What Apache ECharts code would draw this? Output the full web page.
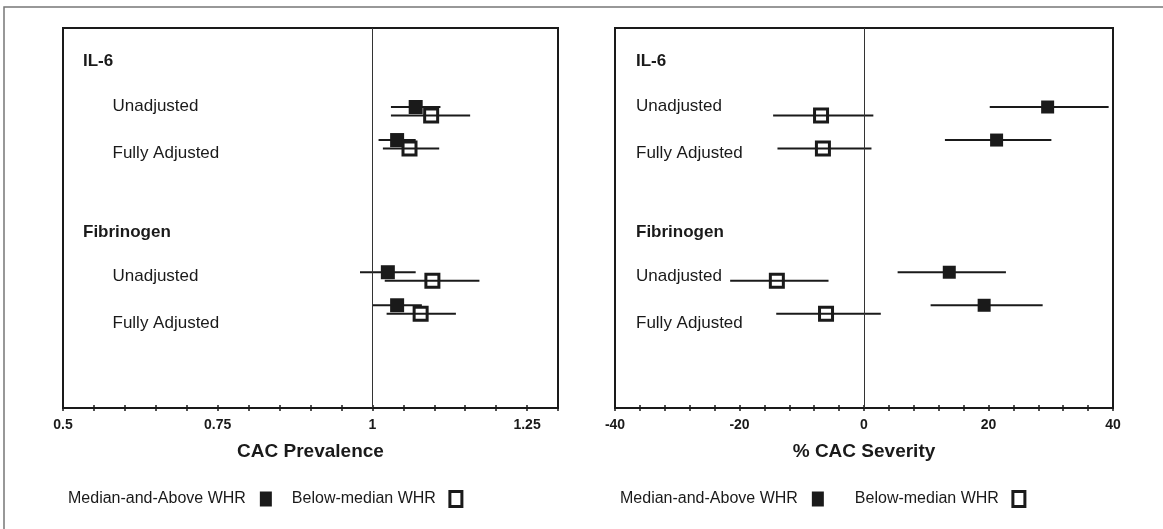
<!DOCTYPE html>
<html><head><meta charset="utf-8">
<script src="https://cdn.jsdelivr.net/npm/echarts@6/dist/echarts.min.js"></script>
<style>html,body{margin:0;padding:0;background:#fff}#c{width:1163px;height:529px}</style>
</head><body><div id="c"></div>
<script>
// ---------- DATA ----------
const groups = ['IL-6', 'Fibrinogen'];
const models = ['Unadjusted', 'Fully Adjusted'];
const rowKeys = ['IL-6 | Unadjusted', 'IL-6 | Fully Adjusted', 'Fibrinogen | Unadjusted', 'Fibrinogen | Fully Adjusted'];
const seriesNames = ['Median-and-Above WHR', 'Below-median WHR'];

// CAC prevalence (ratio): estimate and 95% CI
const prevAboveEst = [1.07, 1.04, 1.025, 1.04];
const prevAboveLo  = [1.03, 1.01, 0.98, 1.00];
const prevAboveHi  = [1.11, 1.07, 1.07, 1.08];
const prevBelowEst = [1.095, 1.06, 1.097, 1.078];
const prevBelowLo  = [1.03, 1.017, 1.02, 1.023];
const prevBelowHi  = [1.158, 1.108, 1.173, 1.135];

// % CAC severity: estimate and 95% CI
const sevAboveEst = [29.5, 21.3, 13.7, 19.3];
const sevAboveLo  = [20.2, 13.0, 5.4, 10.7];
const sevAboveHi  = [39.3, 30.1, 22.8, 28.7];
const sevBelowEst = [-6.9, -6.6, -14.0, -6.1];
const sevBelowLo  = [-14.6, -13.9, -21.5, -14.1];
const sevBelowHi  = [1.5, 1.2, -5.7, 2.7];

const prevTickLabels = [0.5, 0.75, 1, 1.25];
const sevTickLabels = [-40, -20, 0, 20, 40];
const axisTitles = ['CAC Prevalence', '% CAC Severity'];
const refValues = [1, 0];

// ---------- LAYOUT ----------
const FONT = '"Liberation Sans", Arial, sans-serif';
const INK = '#1a1a1a';
const SLOT_COUNT = 24;
const ROW_SLOTS = [5, 7, 15, 17];
const yCats = Array.from({length: SLOT_COUNT}, (_, i) => 'slot' + i);
ROW_SLOTS.forEach((s, i) => { yCats[s] = rowKeys[i]; });

const panels = [
  {grid: {left: 63, top: 28, width: 495, height: 380}, min: 0.5, max: 1.3, interval: 0.05, labels: prevTickLabels,
   above: [prevAboveEst, prevAboveLo, prevAboveHi], below: [prevBelowEst, prevBelowLo, prevBelowHi], sizeA: 14, sizeB: 13},
  {grid: {left: 615, top: 28, width: 498, height: 380}, min: -40, max: 40, interval: 4, labels: sevTickLabels,
   above: [sevAboveEst, sevAboveLo, sevAboveHi], below: [sevBelowEst, sevBelowLo, sevBelowHi], sizeA: 13, sizeB: 13}
];

const OFF_A = -3.6, OFF_B = 4.8;

function errBar(offset) {
  return function (params, api) {
    const p1 = api.coord([api.value(0), api.value(2)]);
    const p2 = api.coord([api.value(1), api.value(2)]);
    return {type: 'line', shape: {x1: p1[0], y1: p1[1] + offset, x2: p2[0], y2: p2[1] + offset},
            style: {stroke: INK, lineWidth: 2}};
  };
}

const grids = [], xAxes = [], yAxes = [], series = [];
panels.forEach((p, g) => {
  grids.push(Object.assign({show: true, borderColor: INK, borderWidth: 2, backgroundColor: 'transparent'}, p.grid));
  const isLabel = v => p.labels.some(l => Math.abs(l - v) < 1e-6);
  xAxes.push({
    type: 'value', gridIndex: g, position: 'bottom', min: p.min, max: p.max, interval: p.interval,
    axisLine: {show: true, lineStyle: {color: INK, width: 2}},
    axisTick: {show: true, length: 3, lineStyle: {color: INK, width: 1.5}},
    splitLine: {show: false},
    axisLabel: {color: INK, fontFamily: FONT, fontSize: 14, fontWeight: 'bold', margin: 10,
      showMinLabel: true, showMaxLabel: true,
      formatter: v => isLabel(v) ? String(+(+v).toFixed(2)) : ''},
    name: axisTitles[g], nameLocation: 'middle', nameGap: 34,
    nameTextStyle: {color: INK, fontFamily: FONT, fontSize: 19, fontWeight: 'bold'}
  });
  xAxes.push({
    type: 'value', gridIndex: g, position: 'bottom', min: p.min, max: p.max, interval: p.interval,
    axisLine: {show: false}, axisLabel: {show: false}, splitLine: {show: false},
    axisTick: {show: true, inside: true, length: 3, lineStyle: {color: INK, width: 1.5}}
  });
  yAxes.push({type: 'category', gridIndex: g, data: yCats, inverse: true, boundaryGap: false, show: false});
  const xi = g * 2;
  series.push({
    type: 'custom', name: seriesNames[0] + ' CI', xAxisIndex: xi, yAxisIndex: g,
    renderItem: errBar(OFF_A), encode: {x: [0, 1], y: 2},
    data: rowKeys.map((k, i) => [p.above[1][i], p.above[2][i], k]), z: 2
  });
  series.push({
    type: 'custom', name: seriesNames[1] + ' CI', xAxisIndex: xi, yAxisIndex: g,
    renderItem: errBar(OFF_B), encode: {x: [0, 1], y: 2},
    data: rowKeys.map((k, i) => [p.below[1][i], p.below[2][i], k]), z: 2
  });
  series.push({
    type: 'scatter', name: seriesNames[0], xAxisIndex: xi, yAxisIndex: g,
    symbol: 'rect', symbolSize: p.sizeA, symbolOffset: [0, OFF_A],
    itemStyle: {color: INK, opacity: 1}, z: 3,
    data: rowKeys.map((k, i) => [p.above[0][i], k]),
    markLine: {silent: true, symbol: 'none', label: {show: false}, animation: false,
      lineStyle: {color: '#333', width: 1, type: 'solid'}, data: [{xAxis: refValues[g]}]}
  });
  series.push({
    type: 'scatter', name: seriesNames[1], xAxisIndex: xi, yAxisIndex: g,
    symbol: 'rect', symbolSize: p.sizeB, symbolOffset: [0, OFF_B],
    itemStyle: {color: 'rgba(0,0,0,0)', borderColor: INK, borderWidth: 3, opacity: 1}, z: 4,
    data: rowKeys.map((k, i) => [p.below[0][i], k])
  });
});

// row label texts (inside plot boxes)
const labelRows = [
  {text: groups[0], head: true}, {text: models[0]}, {text: models[1]},
  {text: groups[1], head: true}, {text: models[0]}, {text: models[1]}
];
const LABEL_Y = [61, 106.5, 153, 232, 276.5, 323];
const labelX = [{head: 83, sub: 112.5}, {head: 636, sub: 636}];
const graphics = [{
  type: 'rect', silent: true, z: -1,
  shape: {x: 4, y: 7, width: 1200, height: 600},
  style: {fill: 'none', stroke: '#777', lineWidth: 1.5}
}];
labelX.forEach(lx => {
  labelRows.forEach((r, i) => {
    graphics.push({type: 'text', silent: true, x: r.head ? lx.head : lx.sub, y: LABEL_Y[i],
      style: {text: r.text, fill: INK, font: (r.head ? 'bold ' : '') + '17px ' + FONT,
        textAlign: 'left', textVerticalAlign: 'middle'}});
  });
});

function legendFor(left, gap) {
  return {
    left: left, top: 490, padding: 0, align: 'right', orient: 'horizontal', itemWidth: 12, itemHeight: 15, itemGap: gap,
    selectedMode: false,
    textStyle: {fontSize: 16, color: INK, fontFamily: FONT, padding: [0, 9, 0, 0]},
    data: [
      {name: seriesNames[0], icon: 'rect', itemStyle: {color: INK, borderWidth: 0}},
      {name: seriesNames[1], icon: 'rect', itemStyle: {color: '#fff', borderColor: INK, borderWidth: 3}}
    ]
  };
}

const chart = echarts.init(document.getElementById('c'), null, {renderer: 'canvas'});
chart.setOption({
  animation: false,
  backgroundColor: '#fff',
  grid: grids, xAxis: xAxes, yAxis: yAxes, series: series,
  legend: [legendFor(68, 20), legendFor(620, 31)],
  graphic: graphics
});
</script></body></html>
